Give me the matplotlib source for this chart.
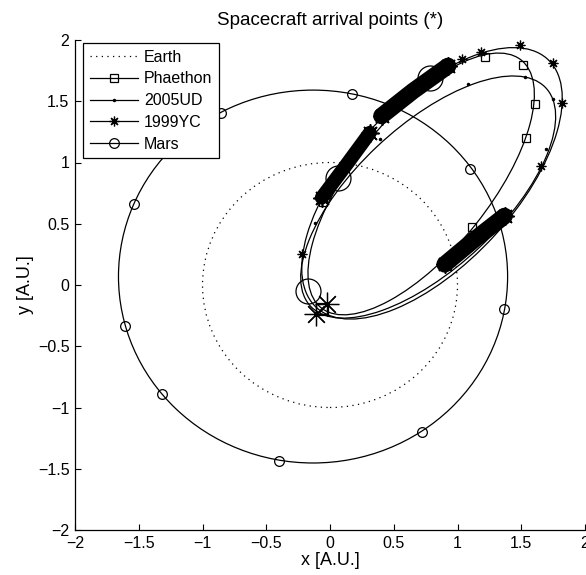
import matplotlib
matplotlib.use("Agg")
import matplotlib.pyplot as plt
from matplotlib.patches import Ellipse
from matplotlib.lines import Line2D

plt.rcParams['font.family'] = ['Liberation Sans', 'DejaVu Sans']

# ---- data ----
earth_center = (0.0, 0.0)
earth_radius = 1.0

mars_center = (-0.133, 0.069)
mars_semi_x = 1.526
mars_semi_y = 1.522
mars_marker_x = [1.099, 0.170, -0.853, -1.534, -1.604, -1.320, -0.397, 0.725, 1.364]
mars_marker_y = [0.951, 1.557, 1.407, 0.664, -0.337, -0.887, -1.437, -1.198, -0.193]

comet_names = ['Phaethon', '2005UD', '1999YC']
comet_center_x = [0.715, 0.77, 0.80]
comet_center_y = [0.825, 0.718, 0.83]
comet_semi_major = [1.28, 1.283, 1.36]
comet_semi_minor = [0.54, 0.575, 0.65]
comet_angle_deg = [52.6, 44.5, 48.7]

phaethon_x = [1.213, 1.513, 1.604, 1.539, 1.117, -0.052]
phaethon_y = [1.861, 1.796, 1.478, 1.198, 0.473, 0.680]
ud2005_x = [1.082, 1.526, 1.748, 1.696, 0.391, -0.117]
ud2005_y = [1.638, 1.700, 1.516, 1.108, 1.189, 0.509]
yc1999_x = [1.038, 1.182, 1.489, 1.750, 1.821, 1.656, -0.221]
yc1999_y = [1.842, 1.904, 1.957, 1.815, 1.488, 0.971, 0.256]

cluster_a_x = [0.404, 0.652, 0.926]
cluster_a_y = [1.380, 1.584, 1.788]
cluster_b_x = [-0.065, 0.131, 0.313]
cluster_b_y = [0.713, 0.985, 1.243]
cluster_c_x = [0.900, 1.135, 1.369]
cluster_c_y = [0.169, 0.373, 0.563]

big_circle_x = [0.788, 0.063, -0.170]
big_circle_y = [1.692, 0.876, -0.049]
big_star_x = [-0.026, -0.110]
big_star_y = [-0.158, -0.239]
big_square_x = [-0.065]
big_square_y = [-0.198]

ticks = [-2, -1.5, -1, -0.5, 0, 0.5, 1, 1.5, 2]
tick_labels = ['\u22122', '\u22121.5', '\u22121', '\u22120.5', '0', '0.5', '1', '1.5', '2']

# ---- figure ----
fig = plt.figure(figsize=(5.86, 5.75), dpi=100)
ax = fig.add_axes([75/586, 45/575, 510/586, 490/575])

LW = 0.9
AST = (8, 2, 0)

ax.add_patch(Ellipse(earth_center, 2*earth_radius, 2*earth_radius, fill=False,
                     edgecolor='black', lw=LW, linestyle=(0, (1, 3.5))))
ax.add_patch(Ellipse(mars_center, 2*mars_semi_x, 2*mars_semi_y, fill=False,
                     edgecolor='black', lw=LW))
for cx, cy, a, b, ang in zip(comet_center_x, comet_center_y, comet_semi_major,
                             comet_semi_minor, comet_angle_deg):
    ax.add_patch(Ellipse((cx, cy), 2*a, 2*b, angle=ang, fill=False,
                         edgecolor='black', lw=LW))

mk = dict(linestyle='none', color='black', mfc='none', mew=LW)
ax.plot(mars_marker_x, mars_marker_y, marker='o', ms=7, **mk)
ax.plot(phaethon_x, phaethon_y, marker='s', ms=6, **mk)
ax.plot(ud2005_x, ud2005_y, marker='.', ms=3, linestyle='none', color='black')
ax.plot(yc1999_x, yc1999_y, marker=AST, ms=7, **mk)

cluster_width = [12, 10, 12]
for (cxs, cys), w in zip([(cluster_a_x, cluster_a_y), (cluster_b_x, cluster_b_y),
                          (cluster_c_x, cluster_c_y)], cluster_width):
    ax.plot(cxs, cys, color='black', lw=w, solid_capstyle='round')
    ax.plot([cxs[0], cxs[-1]], [cys[0], cys[-1]], linestyle='none', marker=AST,
            ms=13, mew=1.2, color='black')

ax.plot(big_circle_x, big_circle_y, marker='o', ms=18, **mk)
ax.plot(big_star_x, big_star_y, marker=AST, ms=17, **mk)
ax.plot(big_square_x, big_square_y, marker='s', ms=9, **mk)

ax.set_xlim(-2, 2)
ax.set_ylim(-2, 2)
ax.set_xticks(ticks)
ax.set_xticklabels(tick_labels)
ax.set_yticks(ticks)
ax.set_yticklabels(tick_labels)
ax.tick_params(direction='in', length=4, width=0.8, labelsize=11.5, pad=4)
for s in ['top', 'right']:
    ax.spines[s].set_visible(False)
for s in ['left', 'bottom']:
    ax.spines[s].set_linewidth(0.9)

ax.set_title('Spacecraft arrival points (*)', fontsize=13.5, pad=11)
ax.set_xlabel('x [A.U.]', fontsize=13, labelpad=1)
ax.set_ylabel('y [A.U.]', fontsize=13, labelpad=3)

handles = [
    Line2D([], [], color='black', lw=LW, linestyle=(0, (1, 3.5))),
    Line2D([], [], color='black', lw=LW, marker='s', ms=6, mfc='none', mew=LW),
    Line2D([], [], color='black', lw=LW, marker='.', ms=3),
    Line2D([], [], color='black', lw=LW, marker=AST, ms=7, mew=LW),
    Line2D([], [], color='black', lw=LW, marker='o', ms=7, mfc='none', mew=LW),
]
labels = ['Earth'] + comet_names + ['Mars']
leg = ax.legend(handles, labels, loc='upper left', bbox_to_anchor=(8/510, 487/490),
                borderaxespad=0, fontsize=11.5, handlelength=3.0, handletextpad=0.4,
                labelspacing=0.42, borderpad=0.42, fancybox=False, numpoints=1,
                framealpha=1)
leg.get_frame().set_edgecolor('black')
leg.get_frame().set_linewidth(0.9)

fig.savefig('out.png', dpi=100)
